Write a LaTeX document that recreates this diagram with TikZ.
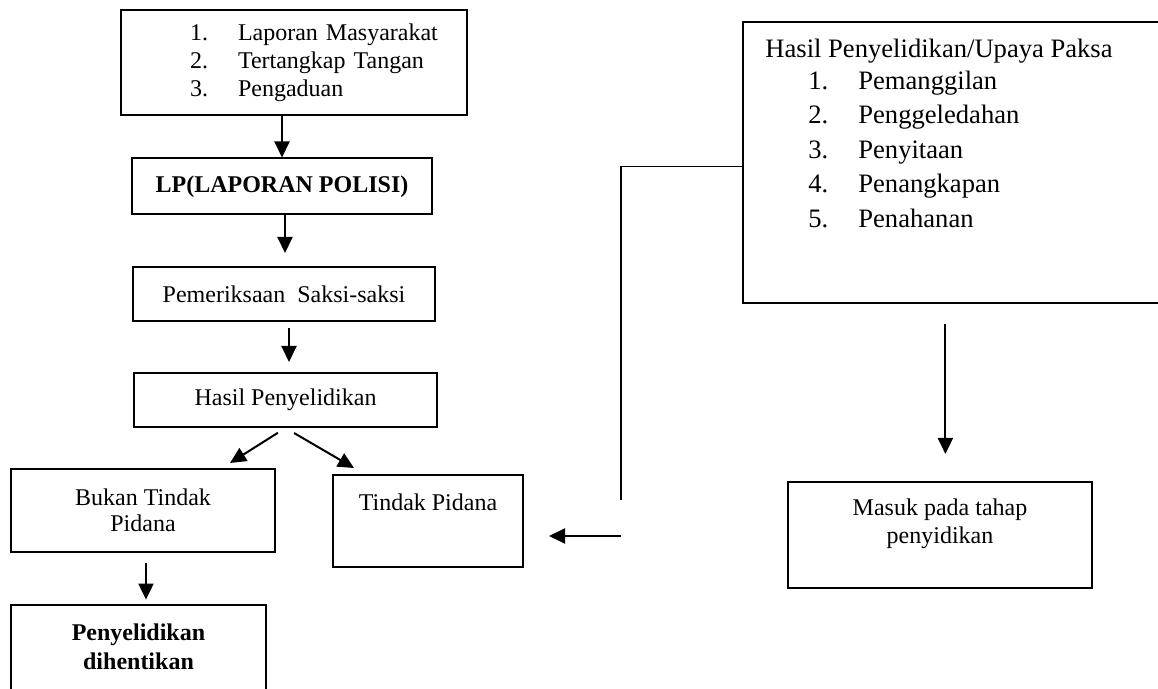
\documentclass[tikz,border=0pt]{standalone}
\usepackage{fontspec}
\setmainfont{Liberation Serif}
\usetikzlibrary{positioning,arrows.meta}
\tikzstyle{ptr}   = [draw, line width=1pt, -{Triangle[length=8pt,width=7.5pt]}]
\tikzstyle{wire}  = [draw, line width=0.8pt]
\tikzstyle{box}   = [rectangle, draw, line width=1pt, inner sep=0pt, align=center, font=\fontsize{12}{14}\selectfont]
\tikzstyle{frame} = [rectangle, inner sep=0pt, align=center, font=\fontsize{12}{14}\selectfont]
\newcommand{\numitem}[3]{\hspace*{#1}\makebox[#2][l]{#3}}

\begin{document}
\begin{tikzpicture}[x=0.5pt, y=-0.5pt]
    \useasboundingbox (0,0) rectangle (1158,689);

    \node[box, minimum width=173pt, minimum height=52.5pt, text width=173pt, align=left] (sumber) at (294,62.5)
        {\numitem{34.5pt}{24pt}{1.}Laporan Masyarakat\\
         \numitem{34.5pt}{24pt}{2.}Tertangkap Tangan\\
         \numitem{34.5pt}{24pt}{3.}Pengaduan};
    \node[box, minimum width=150pt, minimum height=28pt, below of=sumber, node distance=62pt, xshift=-6pt]
        (lp) {\textbf{LP(LAPORAN POLISI)}};
    \node[box, minimum width=151pt, minimum height=27pt, below of=lp, node distance=53.75pt, xshift=1pt]
        (saksi) {Pemeriksaan\ \ Saksi-saksi};
    \node[box, minimum width=151.5pt, minimum height=27pt, below of=saksi, node distance=53pt, xshift=0.75pt]
        (hasil) {Hasil Penyelidikan};

    \node[box, minimum width=132pt, minimum height=41.5pt] (bukan) at (143,510.5) {Bukan Tindak\\[-1pt]Pidana};
    \node[box, minimum width=95pt, minimum height=46pt, right of=bukan, node distance=142.5pt, yshift=-5.25pt]
        (tindak) {Tindak Pidana\\[5pt]~};
    \node[frame, minimum width=127.5pt, minimum height=42pt, below of=bukan, node distance=68.25pt, xshift=-2.25pt]
        (henti) {\textbf{Penyelidikan}\\[0.5pt]\textbf{dihentikan}};
    \draw[line width=1pt] (henti.south west) -- (henti.north west) -- (henti.north east) -- (henti.south east);

    \node[frame, minimum width=207.5pt, minimum height=140pt, anchor=north west] (upaya) at (743,22) {};
    \draw[line width=1pt] (upaya.north east) -- (upaya.north west) -- (upaya.south west) -- (upaya.south east);
    \node[anchor=north west, inner sep=0pt, align=left, font=\fontsize{13.3}{17.25}\selectfont] (upayatext) at (765,39)
        {Hasil Penyelidikan/Upaya Paksa\\[-1.5pt]
         \numitem{21.5pt}{25pt}{1.}Pemanggilan\\
         \numitem{21.5pt}{25pt}{2.}Penggeledahan\\
         \numitem{21.5pt}{25pt}{3.}Penyitaan\\
         \numitem{21.5pt}{25pt}{4.}Penangkapan\\
         \numitem{21.5pt}{25pt}{5.}Penahanan};
    \node[box, minimum width=152pt, minimum height=53pt] (masuk) at (940,535) {Masuk pada tahap\\penyidikan\\~};

    \coordinate (forkL) at (230,463);
    \coordinate (forkR) at (354,468);
    \coordinate (turn)  at (621,500);
    \coordinate (back)  at (621,536);

    \draw[ptr] (sumber.south -| lp.north) -- (lp.north);
    \draw[ptr, shorten >=6.5pt] ([xshift=1.5pt]lp.south) -- ([xshift=1.5pt]lp.south |- saksi.north);
    \draw[ptr, shorten <=3pt, shorten >=5pt] ([xshift=2.5pt]saksi.south) -- ([xshift=2.5pt]saksi.south |- hasil.north);
    \draw[ptr, shorten <=4.5pt] (hasil.south) -- (forkL);
    \draw[ptr, shorten <=5pt] (hasil.south) -- (forkR);
    \draw[ptr, shorten <=5pt, shorten >=2.5pt] ([xshift=1.5pt]bukan.south) -- ([xshift=1.5pt]bukan.south |- henti.north);

    \path[wire] ([yshift=-2pt]upaya.west) -| (turn);
    \draw[ptr, shorten >=12.5pt] (back) -- (back -| tindak.east);
    \draw[ptr, shorten <=10.5pt, shorten >=13.5pt] ([xshift=-2.75pt]upaya.south) -- ([xshift=-2.75pt]upaya.south |- masuk.north);

\end{tikzpicture}
\end{document}
